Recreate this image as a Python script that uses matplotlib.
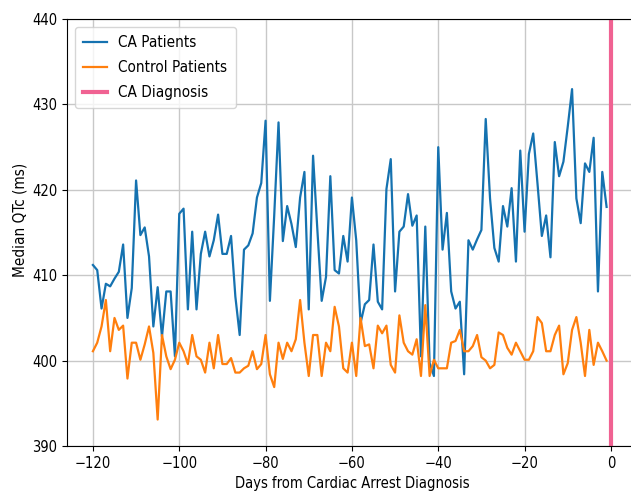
import numpy as np
import matplotlib
matplotlib.use("Agg")
import matplotlib.pyplot as plt

days = np.arange(-120, 0)

ca_qtc = [
    411.2, 410.6, 406.1, 409.0, 408.7, 409.6, 410.4, 413.6, 405.0, 408.5,
    421.1, 414.7, 415.6, 412.2, 404.0, 408.6, 402.8, 408.1, 408.1, 400.5,
    417.2, 417.8, 406.0, 415.1, 406.0, 412.5, 415.1, 412.2, 414.1, 417.1,
    412.5, 412.5, 414.6, 407.5, 403.0, 413.0, 413.5, 414.9, 419.1, 420.8,
    428.1, 407.0, 417.0, 427.9, 414.0, 418.1, 416.0, 413.3, 419.1, 422.1,
    406.0, 424.0, 415.3, 407.0, 409.8, 421.6, 410.6, 410.2, 414.6, 411.6,
    419.1, 414.1, 404.4, 406.6, 407.1, 413.6, 406.9, 406.0, 420.1, 423.6,
    408.1, 415.1, 415.7, 419.5, 415.8, 417.0, 400.5, 415.7, 399.7, 398.2,
    425.0, 413.0, 417.3, 408.1, 406.1, 406.9, 398.4, 414.1, 413.0, 414.2,
    415.3, 428.3, 419.0, 413.2, 411.6, 418.1, 415.7, 420.2, 411.6, 424.6,
    415.1, 424.2, 426.6, 420.7, 414.6, 417.0, 412.1, 425.6, 421.6, 423.3,
    427.4, 431.8, 419.0, 416.1, 423.1, 422.1, 426.1, 408.1, 422.1, 418.0,
]

control_qtc = [
    401.1, 402.1, 404.0, 407.1, 401.1, 405.0, 403.6, 404.1, 397.9, 402.1,
    402.1, 400.1, 401.9, 404.0, 400.9, 393.1, 403.0, 400.5, 399.0, 400.1,
    402.1, 401.1, 399.6, 403.0, 400.5, 400.1, 398.6, 402.1, 399.1, 403.0,
    399.6, 399.6, 400.3, 398.6, 398.6, 399.1, 399.4, 401.1, 399.0, 399.6,
    403.0, 398.4, 396.9, 402.1, 400.2, 402.1, 401.1, 402.5, 407.1, 402.1,
    398.2, 403.0, 403.0, 398.2, 402.1, 401.1, 406.3, 404.0, 399.1, 398.6,
    402.1, 398.2, 405.0, 401.7, 401.9, 399.1, 404.1, 403.2, 404.1, 399.5,
    398.6, 405.3, 402.1, 401.1, 400.7, 402.5, 398.2, 406.5, 398.2, 400.1,
    399.1, 399.1, 399.1, 402.1, 402.3, 403.6, 401.1, 401.1, 401.7, 403.0,
    400.4, 400.0, 399.1, 399.5, 403.3, 403.0, 401.5, 400.7, 402.1, 401.1,
    400.1, 400.1, 401.1, 405.1, 404.4, 401.1, 401.1, 403.0, 404.1, 398.4,
    399.7, 403.6, 405.1, 402.1, 398.2, 403.6, 399.5, 402.1, 401.1, 400.0,
]

plt.rcParams["font.stretch"] = "condensed"

fig = plt.figure(figsize=(6.31, 4.97), dpi=100)
ax = fig.add_axes([0.1062, 0.1026, 0.903, 0.859])

ax.plot(days, ca_qtc, color="#1572b0", linewidth=1.6, label="CA Patients")
ax.plot(days, control_qtc, color="#ff7f0e", linewidth=1.6, label="Control Patients")
ax.axvline(0, color="#f06292", linewidth=3, label="CA Diagnosis")

ax.set_xlim(-126, 6)
ax.set_ylim(390, 440)
ax.set_xticks([-120, -100, -80, -60, -40, -20, 0])
ax.set_yticks([390, 400, 410, 420, 430, 440])
ax.grid(True, color="#c8c8c8", linewidth=1)
ax.set_axisbelow(True)
ax.spines["right"].set_visible(False)
ax.tick_params(labelsize=10.5)
ax.set_xlabel("Days from Cardiac Arrest Diagnosis", fontsize=10.5)
ax.set_ylabel("Median QTc (ms)", fontsize=11)
ax.yaxis.set_label_coords(-0.07, 0.53)
ax.legend(loc="upper left", fontsize=11, labelspacing=0.65, borderpad=0.55,
          handlelength=1.6, handletextpad=0.7)

fig.savefig("out.png", dpi=100)
